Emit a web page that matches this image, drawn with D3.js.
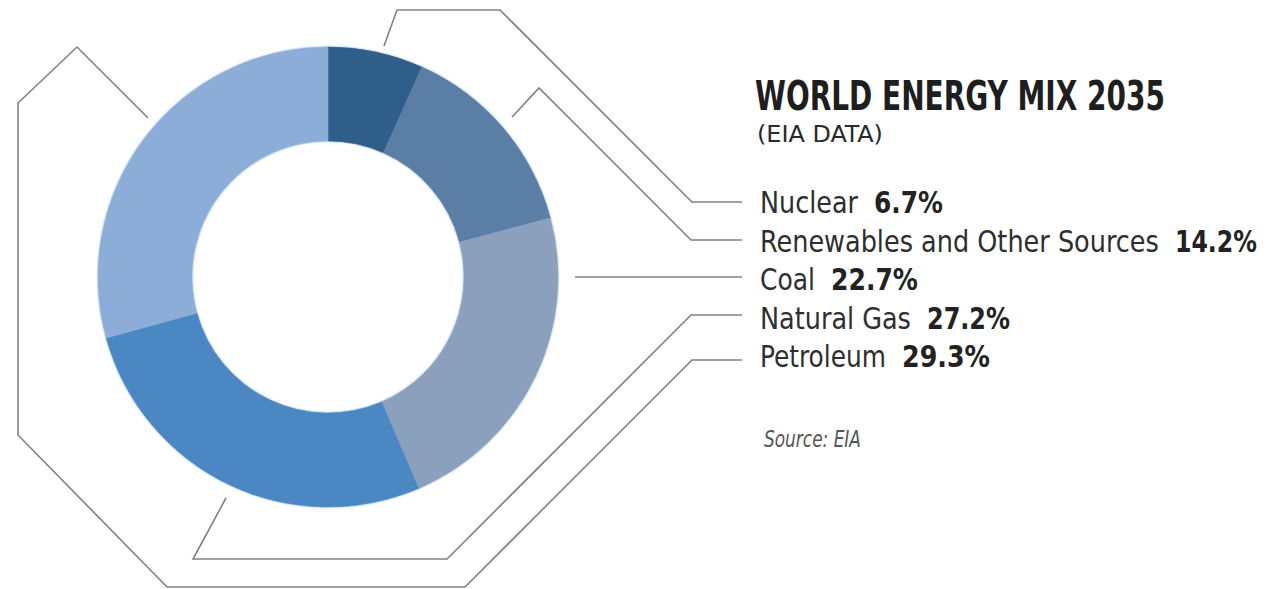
<!DOCTYPE html>
<meta charset="utf-8">
<style>

html, body {
  margin: 0;
  width: 1278px;
  height: 589px;
  background: #fff;
  overflow: hidden;
}

.halo {
  fill: none;
  stroke: #dbe9f6;
  stroke-width: 2px;
}

.leaders path {
  fill: none;
  stroke: #818181;
  stroke-width: 1.6px;
  stroke-linejoin: miter;
}

text {
  font-family: "Liberation Sans Narrow", "DejaVu Sans Condensed", "Liberation Sans", sans-serif;
}

.name { fill: #2e2e2e; }
.value { fill: #222; font-weight: bold; }

</style>
<svg class="chart"></svg>
<script src="https://d3js.org/d3.v7.min.js"></script>
<script>

var width = 1278;
var height = 589;

// data (clockwise from 12 o'clock)
var categories = ['Nuclear', 'Renewables and Other Sources', 'Coal', 'Natural Gas', 'Petroleum'];
var shares = [6.7, 14.2, 22.7, 27.2, 29.3];
var colors = ['#2f5e8a', '#5a7ea6', '#8ba0bd', '#4a87c3', '#8badd7'];

var title = 'WORLD ENERGY MIX 2035';
var subtitle = '(EIA DATA)';
var source = 'Source: EIA';

var nameWidths = [98, 399, 55, 151, 126];
var valueWidths = [69, 82, 87, 83, 88];

// leader line routes (annotation layout)
var leaders = [
  [[384, 46], [397, 10], [500, 10], [692, 202], [742, 202]],
  [[512, 117], [539, 88], [691, 240], [742, 240]],
  [[575, 277], [742, 277]],
  [[226, 498], [193, 559], [447, 559], [691, 315], [742, 315]],
  [[148, 118], [77, 47], [18, 103], [18, 435], [167, 587], [465, 587], [692, 360], [742, 360]]
];

var cx = 328, cy = 277;
var outerR = 230, innerR = 136;

var svg = d3.select('svg.chart')
  .attr('width', width)
  .attr('height', height);

var pie = d3.pie()
  .sort(null)
  .value(function (d) { return d; });

var arc = d3.arc()
  .innerRadius(innerR)
  .outerRadius(outerR);

var color = d3.scaleOrdinal()
  .domain(categories)
  .range(colors);

var line = d3.line();

svg.append('g')
    .attr('class', 'leaders')
  .selectAll('path')
  .data(leaders)
  .enter().append('path')
    .attr('d', function (d) { return line(d); });

var donut = svg.append('g')
    .attr('class', 'slices')
    .attr('transform', 'translate(' + cx + ',' + cy + ')');

donut.append('circle').attr('class', 'halo').attr('r', outerR + 0.5);
donut.append('circle').attr('class', 'halo').attr('r', innerR - 0.5);

donut.selectAll('path')
  .data(pie(shares))
  .enter().append('path')
    .attr('fill', function (d, i) { return color(categories[i]); })
    .attr('stroke', function (d, i) { return color(categories[i]); })
    .attr('stroke-width', 0.6)
    .attr('d', arc);

// squeeze a text horizontally so it spans the given width
function fitWidth(sel, x, y, w) {
  sel.each(function () {
    var natural = this.getComputedTextLength();
    var k = w / natural;
    d3.select(this).attr('transform', 'translate(' + x + ',' + y + ') scale(' + k + ',1)');
  });
}

// legend rows
var row = d3.scalePoint()
  .domain(categories)
  .range([213, 367]);

var legendX = 760;

var legend = svg.append('g').attr('class', 'legend');

categories.forEach(function (c, i) {
  legend.append('text')
      .attr('class', 'name')
      .style('font-size', '31px')
      .text(c)
      .call(fitWidth, legendX, row(c), nameWidths[i]);

  legend.append('text')
      .attr('class', 'value')
      .style('font-size', '31px')
      .text(d3.format('.1f')(shares[i]) + '%')
      .call(fitWidth, legendX + nameWidths[i] + 16, row(c), valueWidths[i]);
});

svg.append('text')
    .attr('fill', '#1e1e1e')
    .style('font-size', '40px')
    .style('font-weight', 'bold')
    .text(title)
    .call(fitWidth, 755, 110, 410);

svg.append('text')
    .attr('fill', '#2a2a2a')
    .style('font-size', '23px')
    .text(subtitle)
    .call(fitWidth, 757, 142, 126);

svg.append('text')
    .attr('fill', '#555')
    .style('font-size', '23px')
    .style('font-style', 'italic')
    .text(source)
    .call(fitWidth, 764, 447, 97);

</script>
